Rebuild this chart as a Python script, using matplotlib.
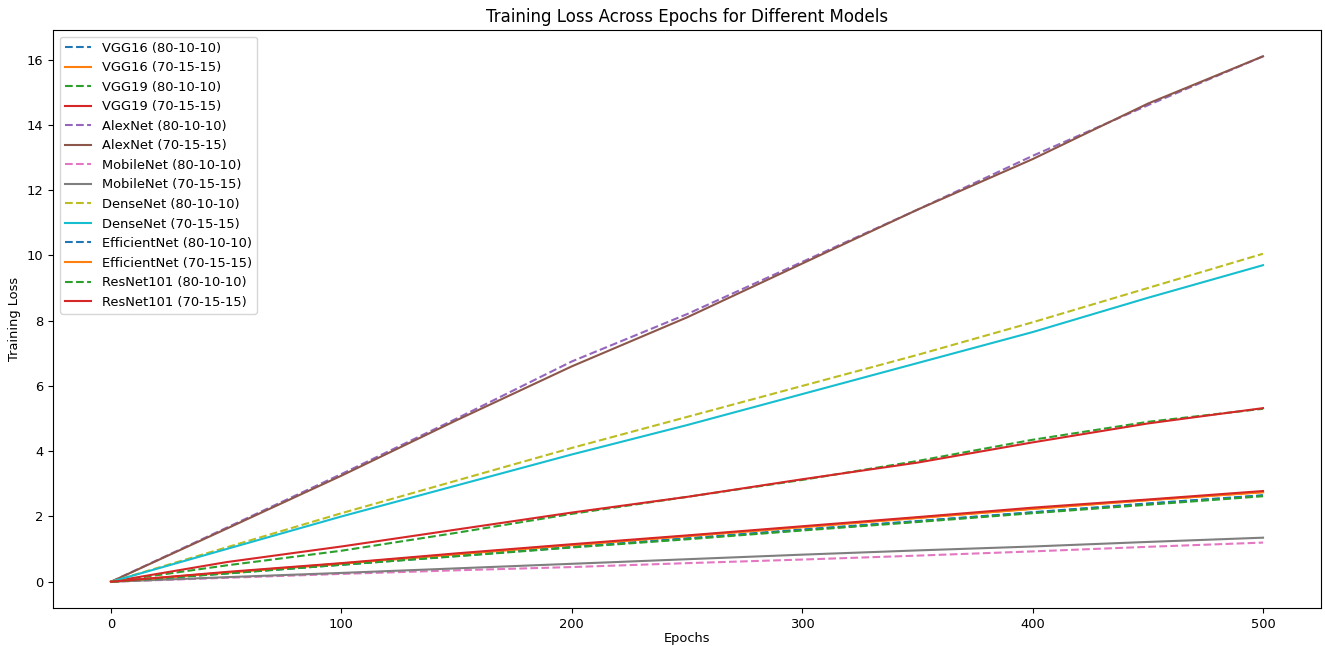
import matplotlib
matplotlib.use("Agg")
import matplotlib.pyplot as plt

epochs = [0, 50, 100, 150, 200, 250, 300, 350, 400, 450, 500]

vgg16_80 = [0, 0.26, 0.53, 0.80, 1.07, 1.33, 1.60, 1.86, 2.13, 2.40, 2.65]
vgg16_70 = [0, 0.28, 0.55, 0.85, 1.12, 1.40, 1.68, 1.95, 2.24, 2.50, 2.75]
vgg19_80 = [0, 0.50, 0.95, 1.50, 2.08, 2.60, 3.12, 3.70, 4.35, 4.90, 5.30]
vgg19_70 = [0, 0.60, 1.08, 1.60, 2.12, 2.60, 3.14, 3.65, 4.27, 4.85, 5.32]
alex_80 = [0, 1.65, 3.30, 5.00, 6.75, 8.20, 9.80, 11.40, 13.05, 14.60, 16.10]
alex_70 = [0, 1.62, 3.25, 4.95, 6.60, 8.10, 9.75, 11.40, 12.95, 14.65, 16.10]
mobile_80 = [0, 0.12, 0.24, 0.35, 0.45, 0.57, 0.68, 0.80, 0.93, 1.07, 1.20]
mobile_70 = [0, 0.14, 0.27, 0.41, 0.55, 0.69, 0.83, 0.96, 1.08, 1.22, 1.35]
dense_80 = [0, 1.05, 2.10, 3.10, 4.10, 5.05, 6.00, 6.95, 7.95, 9.00, 10.05]
dense_70 = [0, 1.00, 2.00, 2.95, 3.90, 4.80, 5.75, 6.70, 7.65, 8.70, 9.70]
eff_80 = [0, 0.26, 0.52, 0.79, 1.06, 1.32, 1.59, 1.85, 2.12, 2.38, 2.64]
eff_70 = [0, 0.28, 0.56, 0.84, 1.13, 1.40, 1.67, 1.96, 2.23, 2.50, 2.74]
res_80 = [0, 0.25, 0.52, 0.78, 1.05, 1.30, 1.57, 1.83, 2.10, 2.36, 2.62]
res_70 = [0, 0.30, 0.57, 0.87, 1.15, 1.42, 1.70, 1.98, 2.27, 2.52, 2.78]

models = ["VGG16", "VGG19", "AlexNet", "MobileNet", "DenseNet", "EfficientNet", "ResNet101"]
series = {
    "VGG16": (vgg16_80, vgg16_70),
    "VGG19": (vgg19_80, vgg19_70),
    "AlexNet": (alex_80, alex_70),
    "MobileNet": (mobile_80, mobile_70),
    "DenseNet": (dense_80, dense_70),
    "EfficientNet": (eff_80, eff_70),
    "ResNet101": (res_80, res_70),
}

fs = 9.4
fig = plt.figure(figsize=(13.25, 6.46), dpi=100)
ax = fig.add_axes([0.0403, 0.0588, 0.9564, 0.8947])

for m in models:
    a, b = series[m]
    ax.plot(epochs, a, linestyle="--", linewidth=1.5, label=f"{m} (80-10-10)")
    ax.plot(epochs, b, linestyle="-", linewidth=1.5, label=f"{m} (70-15-15)")

ax.set_title("Training Loss Across Epochs for Different Models", fontsize=12.0, pad=6)
ax.set_xlabel("Epochs", fontsize=fs, labelpad=1)
ax.set_ylabel("Training Loss", fontsize=fs)
ax.set_xticks([0, 100, 200, 300, 400, 500])
ax.set_yticks([0, 2, 4, 6, 8, 10, 12, 14, 16])
ax.tick_params(labelsize=fs)
ax.legend(loc="upper left", fontsize=fs)

fig.savefig("out.png", dpi=100)
